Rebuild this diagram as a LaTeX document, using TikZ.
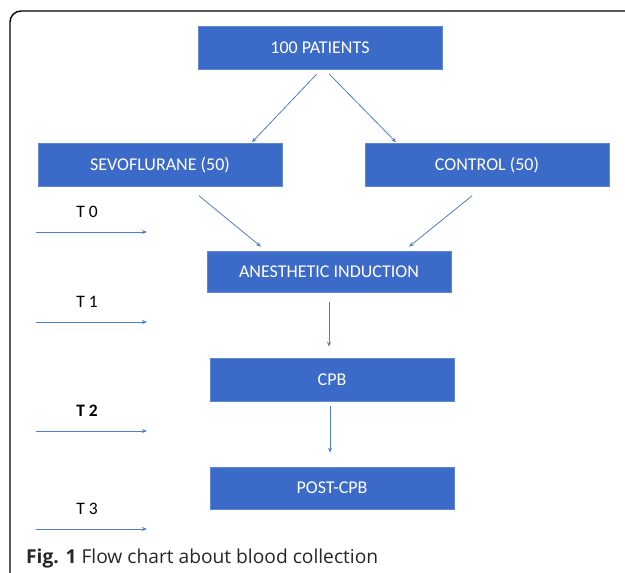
\documentclass[tikz,border=0pt]{standalone}
\usepackage{fontspec}
\setmainfont{Carlito}
\newfontfamily\capfont{Open Sans}
\usetikzlibrary{calc,arrows.meta,positioning}

\definecolor{boxblue}{RGB}{60,106,200}
\definecolor{boxedge}{RGB}{95,135,212}
\definecolor{linkblue}{RGB}{78,125,210}

\tikzset{
  stage/.style={draw=boxedge, line width=0.6pt, fill=boxblue, text=white,
    minimum width=244pt, minimum height=43pt, inner sep=0pt,
    font=\fontsize{18}{21}\selectfont},
  link/.style={draw=linkblue, line width=0.8pt,
    -{Stealth[length=5pt,width=4pt]}},
  tlabel/.style={inner sep=0pt}
}

\begin{document}
\begin{tikzpicture}[x=1pt,y=-1pt]
        \useasboundingbox (0,0) rectangle (625,573);

        % frame of the figure
        \draw[line width=1.4pt, rounded corners=11pt] (10,573) -- (10,11) -- (625,11);

        % boxes
        \node[stage] (patients) at (320,48) {100 PATIENTS};
        \node[stage] (sevo) at (160,165) {SEVOFLURANE (50)};
        \node[stage] (control) at (487,165) {CONTROL (50)};
        \node[stage, minimum height=41pt] (induction) at (329,271.5) {ANESTHETIC INDUCTION};
        \node[stage] (cpb) at (332,379.5) {CPB};
        \node[stage, minimum height=42pt] (postcpb) at (332,488) {POST-CPB};

        % arrows between boxes
        \draw[link] ([xshift=-3pt,yshift=-4pt]patients.south) -- ([xshift=92pt,yshift=1pt]sevo.north);
        \draw[link] ([xshift=9pt,yshift=-4pt]patients.south) -- ([xshift=-91pt,yshift=1pt]control.north);
        \draw[link] ([xshift=39pt,yshift=-9pt]sevo.south) -- ([xshift=-68pt,yshift=4pt]induction.north);
        \draw[link] ([xshift=-15pt,yshift=-9pt]control.south) -- ([xshift=80pt,yshift=4pt]induction.north);
        \draw[link] ([yshift=-10pt]induction.south) -- ([xshift=-3pt,yshift=11pt]cpb.north);
        \draw[link] ([xshift=-2pt,yshift=-5pt]cpb.south) -- ([xshift=-2pt,yshift=14pt]postcpb.north);

        % sampling times
        \foreach \i/\y/\f in {0/232/\mdseries, 1/322/\mdseries, 2/431/\bfseries, 3/529/\mdseries}{
          \coordinate (t\i a) at (36,\y);
          \coordinate (t\i b) at (147,\y);
          \draw[link] (t\i a) -- (t\i b);
          \node[tlabel, font=\fontsize{17.5}{20}\selectfont\f] (tl\i) at (87,\y-20) {T \i};
        }

        % caption
        \node[anchor=base west, inner sep=0pt, text=black!85,
          font=\capfont\fontsize{19.2}{23}\selectfont] (cap) at (26,563)
          {\textbf{Fig. 1} Flow chart about blood collection};
\end{tikzpicture}
\end{document}
